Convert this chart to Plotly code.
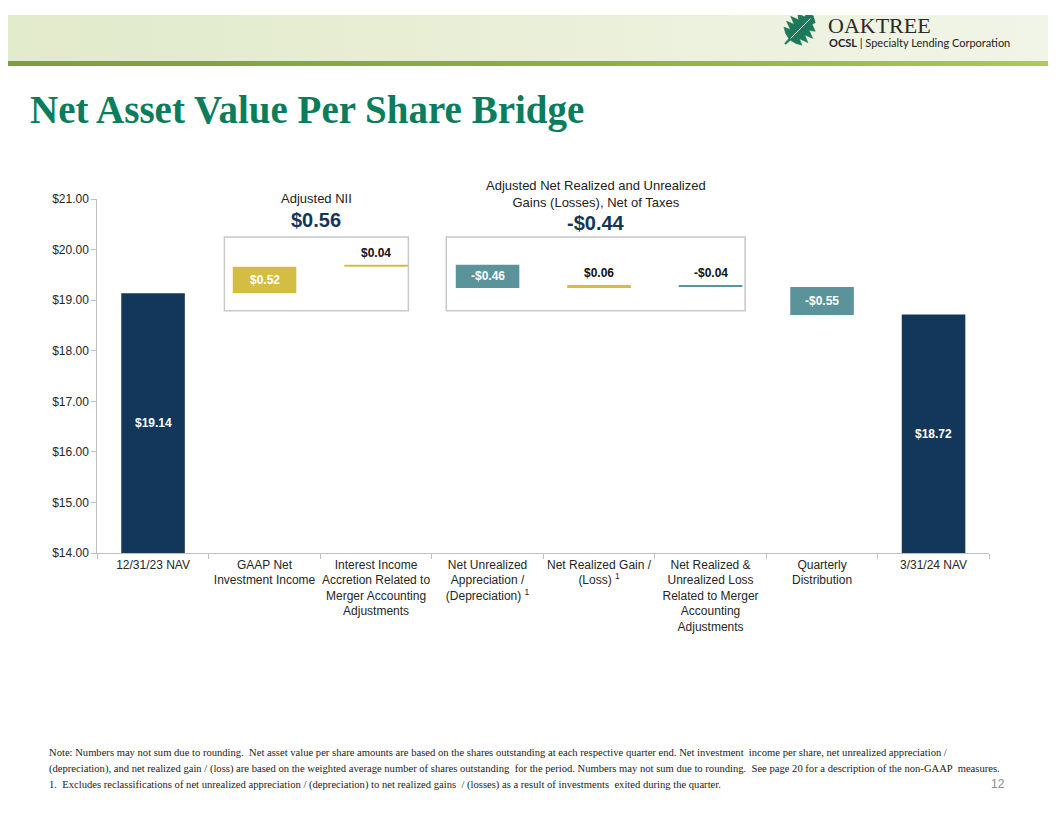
import plotly.graph_objects as go

# ---- data ----
categories = [
    "12/31/23 NAV",
    "GAAP Net<br>Investment Income",
    "Interest Income<br>Accretion Related to<br>Merger Accounting<br>Adjustments",
    "Net Unrealized<br>Appreciation /<br>(Depreciation) <sup>1</sup>",
    "Net Realized Gain /<br>(Loss) <sup>1</sup>",
    "Net Realized &<br>Unrealized Loss<br>Related to Merger<br>Accounting<br>Adjustments",
    "Quarterly<br>Distribution",
    "3/31/24 NAV",
]
start_nav = 19.14
changes = [0.52, 0.04, -0.46, 0.06, -0.04, -0.55]
end_nav = 18.72
y_ticks = [14, 15, 16, 17, 18, 19, 20, 21]

NAVY = "#13375A"
GOLD = "#D3BD42"
TEAL = "#5A939A"
GREEN = "#0B7C5C"
# figure placement on the photographed page (body margin + vertical squeeze)
OX, OY, SY = 8, 15, 0.981
W, H = 1040, 800
FONT = "Arial, Liberation Sans, sans-serif"
SERIF = "Liberation Serif, Times New Roman, serif"
Y_MIN, Y_MAX = 14, 21


def money(v):
    return ("-$" if v < 0 else "$") + f"{abs(v):.2f}"


def px(x):
    # page pixel -> paper fraction
    return (x - OX) / W


def py(y):
    return 1 - ((y - OY) / SY) / H


# bases / heights for the bridge
bases, heights, colors = [0], [start_nav], [NAVY]
running = start_nav
for c in changes:
    bases.append(running)
    heights.append(c)
    colors.append(GOLD if c > 0 else TEAL)
    running += c
bases.append(0)
heights.append(end_nav)
colors.append(NAVY)

labels = [money(h) for h in heights]

fig = go.Figure()

# ---- header band (overlay axes in page pixels) ----
fig.add_trace(go.Scatter(
    x=[0, 1056, 1056, 0, 0], y=[0, 0, 61, 61, 0], mode="lines", fill="toself",
    line=dict(width=0), xaxis="x2", yaxis="y2", hoverinfo="skip",
    fillgradient=dict(type="horizontal",
                      colorscale=[[0, "#E1EACA"], [0.45, "#E8EFD6"], [1, "#F1F5E8"]]),
))
fig.add_trace(go.Scatter(
    x=[0, 1056, 1056, 0, 0], y=[61, 61, 66, 66, 61], mode="lines", fill="toself",
    line=dict(width=0), xaxis="x2", yaxis="y2", hoverinfo="skip",
    fillgradient=dict(type="horizontal",
                      colorscale=[[0, "#7C9F38"], [0.6, "#8DB23F"], [1, "#ACCC52"]]),
))

# oak leaf logo
side = [(0.0, 0.02), (0.16, 0.03), (0.20, 0.18), (0.28, 0.32), (0.35, 0.16),
        (0.43, 0.38), (0.51, 0.19), (0.59, 0.39), (0.67, 0.19), (0.76, 0.31),
        (0.83, 0.13), (0.91, 0.16), (1.0, 0.0)]
outline = side + [(u, -w) for u, w in reversed(side)]
bx, by, L = 785.0, 44.0, 40.0
dx, dy = 0.7071, -0.7071
nx, ny = 0.7071, 0.7071
lx = [bx + u * L * dx + w * L * nx for u, w in outline]
ly = [by + u * L * dy + w * L * ny for u, w in outline]
fig.add_trace(go.Scatter(x=lx, y=ly, mode="lines", fill="toself", fillcolor="#1C7A5B",
                         line=dict(width=0.5, color="#1C7A5B"),
                         xaxis="x2", yaxis="y2", hoverinfo="skip"))
fig.add_trace(go.Scatter(x=[bx + 0.2 * L * dx, bx + 0.9 * L * dx],
                         y=[by + 0.2 * L * dy, by + 0.9 * L * dy],
                         mode="lines", line=dict(width=1, color="#E8F0E0"),
                         xaxis="x2", yaxis="y2", hoverinfo="skip"))

# ---- bridge bars ----
fig.add_trace(go.Bar(
    x=categories, y=heights, base=bases,
    marker=dict(color=colors, line=dict(width=0)),
    width=0.57, hoverinfo="skip",
))

annotations = []
for i, (b, h) in enumerate(zip(bases, heights)):
    if abs(h) < 0.1:
        # thin bars: black label just above the line
        annotations.append(dict(
            x=categories[i], y=max(b, b + h), xref="x", yref="y",
            text="<b>" + labels[i] + "</b>", showarrow=False, yanchor="bottom",
            yshift=3, font=dict(size=12, color="#111111", family=FONT)))
    else:
        # white label centred in the visible part of the bar
        lo = max(min(b, b + h), Y_MIN)
        hi = max(b, b + h)
        annotations.append(dict(
            x=categories[i], y=(lo + hi) / 2, xref="x", yref="y",
            text="<b>" + labels[i] + "</b>", showarrow=False, yanchor="middle",
            font=dict(size=12, color="white", family=FONT)))

# group boxes and captions
nii_total = changes[0] + changes[1]
gl_total = changes[2] + changes[3] + changes[4]
boxes = [(1 - 0.36, 2 + 0.29), (3 - 0.37, 5 + 0.31)]
shapes = []
for x0, x1 in boxes:
    shapes.append(dict(type="rect", xref="x", yref="y", x0=x0, x1=x1, y0=18.79, y1=20.25,
                       line=dict(color="#C8C8C8", width=1.5), fillcolor="rgba(0,0,0,0)",
                       layer="below"))

c1 = sum(boxes[0]) / 2
c2 = sum(boxes[1]) / 2
annotations += [
    dict(x=c1, y=py(198), xref="x", yref="paper", text="Adjusted NII", showarrow=False,
         yanchor="middle", font=dict(size=13, color="#222222", family=FONT)),
    dict(x=c1, y=py(220), xref="x", yref="paper", text="<b>" + money(nii_total) + "</b>",
         showarrow=False, yanchor="middle", font=dict(size=20, color=NAVY, family=FONT)),
    dict(x=c2, y=py(194), xref="x", yref="paper",
         text="Adjusted Net Realized and Unrealized<br>Gains (Losses), Net of Taxes",
         showarrow=False, yanchor="middle", font=dict(size=13, color="#222222", family=FONT)),
    dict(x=c2, y=py(223), xref="x", yref="paper", text="<b>" + money(gl_total) + "</b>",
         showarrow=False, yanchor="middle", font=dict(size=20, color=NAVY, family=FONT)),
]

# ---- page text ----
annotations += [
    dict(x=px(28), y=py(110), xref="paper", yref="paper", xanchor="left", yanchor="middle",
         text="<b>Net Asset Value Per Share Bridge</b>", showarrow=False,
         font=dict(size=39, color=GREEN, family=SERIF)),
    dict(x=px(826), y=py(25), xref="paper", yref="paper", xanchor="left", yanchor="middle",
         text="OAKTREE", showarrow=False,
         font=dict(size=22, color="#2A2A2A", family=SERIF)),
    dict(x=px(827), y=py(42), xref="paper", yref="paper", xanchor="left", yanchor="middle",
         text="<b>OCSL</b> | Specialty Lending Corporation", showarrow=False,
         font=dict(size=11, color="#222222", family="Lato, Open Sans, sans-serif")),
    dict(x=px(1007), y=py(783), xref="paper", yref="paper", xanchor="right", yanchor="middle",
         text="12", showarrow=False, font=dict(size=12, color="#8C8C8C", family=FONT)),
]

notes = [
    "Note: Numbers may not sum due to rounding.  Net asset value per share amounts are based on the shares "
    "outstanding at each respective quarter end. Net investment  income per share, net unrealized appreciation /",
    "(depreciation), and net realized gain / (loss) are based on the weighted average number of shares outstanding "
    " for the period. Numbers may not sum due to rounding.  See page 20 for a description of the non-GAAP  measures.",
    "1.  Excludes reclassifications of net unrealized appreciation / (depreciation) to net realized gains  / (losses) "
    "as a result of investments  exited during the quarter.",
]
for k, line in enumerate(notes):
    annotations.append(dict(
        x=px(47), y=py(751 + 16.5 * k), xref="paper", yref="paper", xanchor="left",
        yanchor="middle", text=line, showarrow=False,
        font=dict(size=10.6, color="#222222", family=SERIF)))

fig.update_layout(
    width=W, height=H,
    margin=dict(l=0, r=0, t=0, b=0),
    paper_bgcolor="white", plot_bgcolor="rgba(0,0,0,0)",
    showlegend=False,
    font=dict(family=FONT, size=12, color="#262626"),
    xaxis=dict(domain=[px(97.3), px(989.3)], type="category", showline=True,
               linecolor="#BFBFBF", linewidth=1, ticks="outside", tickson="boundaries",
               ticklen=5, tickcolor="#BFBFBF", showgrid=False, fixedrange=True,
               tickangle=0, tickfont=dict(size=12, color="#262626")),
    yaxis=dict(domain=[py(552.3), py(198.8)], range=[Y_MIN, Y_MAX], tickvals=y_ticks,
               ticktext=[money(v) for v in y_ticks], showline=True, linecolor="#BFBFBF",
               linewidth=1, ticks="outside", ticklen=5, tickcolor="#BFBFBF",
               showgrid=False, zeroline=False, fixedrange=True,
               tickfont=dict(size=12, color="#262626")),
    xaxis2=dict(domain=[0, 1], range=[OX, OX + W], anchor="y2", visible=False, fixedrange=True),
    yaxis2=dict(domain=[0, 1], range=[OY + SY * H, OY], anchor="x2", visible=False,
                fixedrange=True),
    shapes=shapes,
    annotations=annotations,
)

fig.write_html("out.html")
